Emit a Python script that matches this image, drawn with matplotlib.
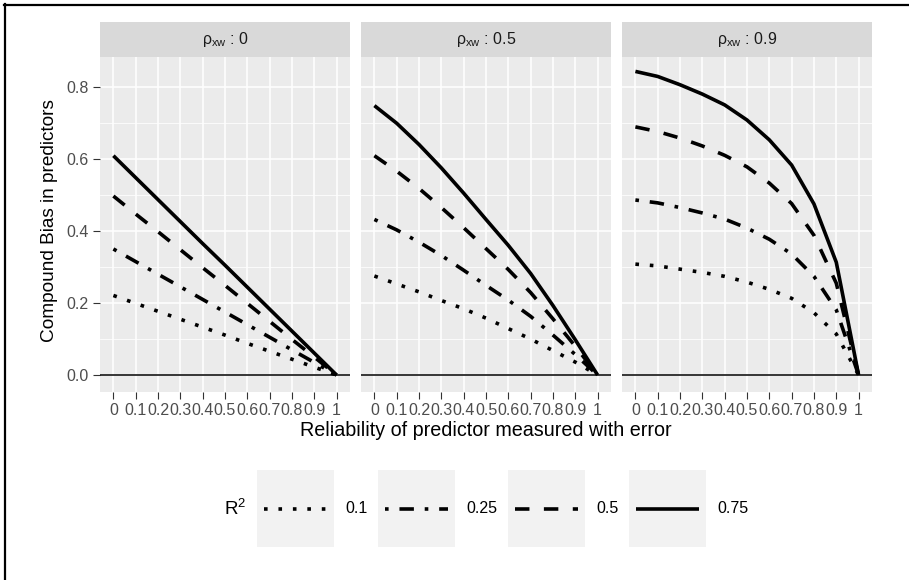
import matplotlib
matplotlib.use("Agg")
import matplotlib.pyplot as plt
from matplotlib.lines import Line2D
from matplotlib.patches import Rectangle
import numpy as np

plt.rcParams['font.family'] = ['Liberation Sans', 'DejaVu Sans']
plt.rcParams['mathtext.fontset'] = 'custom'
plt.rcParams['mathtext.rm'] = 'Liberation Sans'
plt.rcParams['mathtext.it'] = 'Liberation Sans:italic'

# reliability values on the x axis
reliability = [0.0, 0.1, 0.2, 0.3, 0.4, 0.5, 0.6, 0.7, 0.8, 0.9, 1.0]
x_tick_labels = ['0', '0.1', '0.2', '0.3', '0.4', '0.5', '0.6', '0.7', '0.8', '0.9', '1']
y_ticks = [0.0, 0.2, 0.4, 0.6, 0.8]
y_tick_labels = ['0.0', '0.2', '0.4', '0.6', '0.8']

rho_levels = ['0', '0.5', '0.9']
r2_levels = ['0.1', '0.25', '0.5', '0.75']

# rho_xw = 0
bias_rho0_r2_010 = [0.221, 0.199, 0.177, 0.155, 0.133, 0.111, 0.088, 0.066, 0.044, 0.022, 0.0]
bias_rho0_r2_025 = [0.350, 0.315, 0.280, 0.245, 0.210, 0.175, 0.140, 0.105, 0.070, 0.035, 0.0]
bias_rho0_r2_050 = [0.497, 0.447, 0.398, 0.348, 0.298, 0.249, 0.199, 0.149, 0.099, 0.050, 0.0]
bias_rho0_r2_075 = [0.609, 0.548, 0.487, 0.426, 0.365, 0.305, 0.244, 0.183, 0.122, 0.061, 0.0]

# rho_xw = 0.5
bias_rho05_r2_010 = [0.275, 0.253, 0.231, 0.207, 0.184, 0.158, 0.129, 0.100, 0.068, 0.036, 0.0]
bias_rho05_r2_025 = [0.432, 0.403, 0.369, 0.332, 0.291, 0.249, 0.208, 0.163, 0.111, 0.057, 0.0]
bias_rho05_r2_050 = [0.609, 0.566, 0.518, 0.465, 0.409, 0.351, 0.293, 0.229, 0.156, 0.080, 0.0]
bias_rho05_r2_075 = [0.748, 0.699, 0.640, 0.575, 0.505, 0.432, 0.360, 0.282, 0.193, 0.098, 0.0]

# rho_xw = 0.9
bias_rho09_r2_010 = [0.308, 0.303, 0.294, 0.285, 0.274, 0.258, 0.238, 0.213, 0.173, 0.114, 0.0]
bias_rho09_r2_025 = [0.486, 0.478, 0.465, 0.450, 0.433, 0.408, 0.377, 0.336, 0.274, 0.181, 0.0]
bias_rho09_r2_050 = [0.689, 0.676, 0.658, 0.636, 0.610, 0.578, 0.533, 0.476, 0.388, 0.255, 0.0]
bias_rho09_r2_075 = [0.843, 0.829, 0.806, 0.780, 0.750, 0.708, 0.653, 0.583, 0.475, 0.313, 0.0]

panels = {
    '0': [bias_rho0_r2_010, bias_rho0_r2_025, bias_rho0_r2_050, bias_rho0_r2_075],
    '0.5': [bias_rho05_r2_010, bias_rho05_r2_025, bias_rho05_r2_050, bias_rho05_r2_075],
    '0.9': [bias_rho09_r2_010, bias_rho09_r2_025, bias_rho09_r2_050, bias_rho09_r2_075],
}

# ggplot linetypes: dotted, dotdash, dashed, solid
line_styles = [(0, (1, 3)), (0, (1, 3, 4, 3)), (0, (4, 4)), '-']
LW = 2.6

W, H = 909, 580
fig = plt.figure(figsize=(W / 100, H / 100), dpi=100)


def px_axes(left, top, width, height):
    return fig.add_axes([left / W, 1 - (top + height) / H, width / W, height / H])


panel_lefts = [100, 361, 622]
panel_top, panel_w, panel_h = 57, 250, 335
strip_top, strip_h = 22, 35
tick_color = '#4D4D4D'

for i, rho in enumerate(rho_levels):
    ax = px_axes(panel_lefts[i], panel_top, panel_w, panel_h)
    ax.set_facecolor('#EBEBEB')
    for s in ax.spines.values():
        s.set_visible(False)
    ax.set_xlim(-0.06, 1.06)
    ax.set_ylim(-0.047, 0.883)
    ax.set_xticks(reliability)
    ax.set_xticklabels(x_tick_labels)
    ax.set_yticks(y_ticks)
    ax.set_yticks([0.1, 0.3, 0.5, 0.7], minor=True)
    ax.tick_params(axis='both', which='major', length=5, width=0.8, color='#333333',
                   labelsize=11.5, labelcolor=tick_color, pad=3)
    ax.tick_params(axis='y', which='minor', length=0)
    if i == 0:
        ax.set_yticklabels(y_tick_labels)
    else:
        ax.set_yticklabels([])
        ax.tick_params(axis='y', which='major', length=0)
    ax.grid(True, which='major', axis='both', color='white', linewidth=1.1)
    ax.grid(True, which='minor', axis='y', color='white', linewidth=0.55)
    ax.set_axisbelow(True)

    ax.axhline(0, color='black', linewidth=1.1, zorder=2)
    for vals, ls in zip(panels[rho], line_styles):
        ax.plot(reliability, vals, color='black', linestyle=ls, linewidth=LW,
                solid_capstyle='butt', dash_capstyle='butt', zorder=3)

    sax = px_axes(panel_lefts[i], strip_top, panel_w, strip_h)
    sax.set_facecolor('#D9D9D9')
    sax.set_xticks([])
    sax.set_yticks([])
    for s in sax.spines.values():
        s.set_visible(False)
    sax.text(0.5, 0.5, r'$\mathregular{ρ_{xw}}$ : ' + rho, ha='center', va='center',
             fontsize=11.5, color='#1A1A1A', transform=sax.transAxes)

fig.text(486 / W, 1 - 430 / H, 'Reliability of predictor measured with error',
         ha='center', va='center', fontsize=14.2)
fig.text(50 / W, 1 - 221 / H, 'Compound Bias in predictors', ha='center', va='center',
         rotation=90, fontsize=13.7)

# legend drawn in pixel space
lax = fig.add_axes([0, 0, 1, 1], facecolor='none')
lax.set_xlim(0, W)
lax.set_ylim(H, 0)
lax.axis('off')
key_lefts = [257, 378, 508, 629]
key_top, key_size = 470, 77
key_mid = key_top + key_size / 2
lax.text(224, key_mid, r'$\mathregular{R^2}$', ha='left', va='center', fontsize=13.5)
for kl, lab, ls in zip(key_lefts, r2_levels, line_styles):
    lax.add_patch(Rectangle((kl, key_top), key_size, key_size, facecolor='#F2F2F2',
                            edgecolor='none'))
    lax.add_line(Line2D([kl + 7, kl + key_size - 7], [key_mid, key_mid], color='black',
                        linestyle=ls, linewidth=LW, solid_capstyle='butt',
                        dash_capstyle='butt'))
    lax.text(kl + key_size + 11, key_mid, lab, ha='left', va='center', fontsize=11.5,
             color='black')

# border at the top and left of the image
lax.add_line(Line2D([4, W], [5, 5], color='black', linewidth=1.6))
lax.add_line(Line2D([5, 5], [4, H], color='black', linewidth=1.6))

fig.savefig('out.png', dpi=100, facecolor='white')
